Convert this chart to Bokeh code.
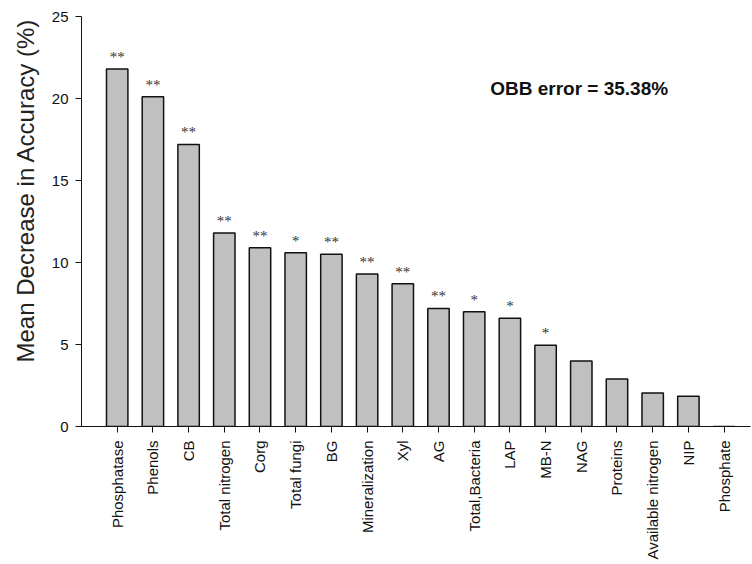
import math
from bokeh.plotting import figure
from bokeh.models import ColumnDataSource, FixedTicker, Label, LabelSet, Range1d, Title
from bokeh.embed import file_html
from bokeh.resources import INLINE

categories = ["Phosphatase", "Phenols", "CB", "Total nitrogen", "Corg", "Total fungi",
              "BG", "Mineralization", "Xyl", "AG", "Total,Bacteria", "LAP", "MB-N",
              "NAG", "Proteins", "Available nitrogen", "NIP", "Phosphate"]
values = [21.8, 20.1, 17.2, 11.8, 10.9, 10.6, 10.5, 9.3, 8.7, 7.2, 7.0, 6.6, 4.95,
          4.0, 2.9, 2.05, 1.85, 0.0]
stars = ["**", "**", "**", "**", "**", "*", "**", "**", "**", "**", "*", "*", "*",
         "", "", "", "", ""]
y_ticks = [0, 5, 10, 15, 20, 25]

positions = list(range(1, len(categories) + 1))
src = ColumnDataSource(dict(x=positions, top=values, star=stars))

FONT = "Liberation Sans"

p = figure(width=752, height=564, output_backend="svg", toolbar_location=None,
           x_range=Range1d(0, 18.74), y_range=Range1d(0, 25),
           min_border_left=80, min_border_right=2, min_border_top=16,
           min_border_bottom=138)
p.outline_line_color = None
p.xgrid.grid_line_color = None
p.ygrid.grid_line_color = None
p.background_fill_color = "white"
p.border_fill_color = "white"

p.vbar(x="x", top="top", width=0.6, bottom=0, source=src,
       fill_color="#c0c0c0", line_color="#111111", line_width=1.5)

p.add_layout(LabelSet(x="x", y="top", text="star", source=src, y_offset=4,
                      text_align="center", text_baseline="bottom",
                      text_font=FONT, text_font_size="15px", text_color="#333333"))

p.add_layout(Label(x=13.94, y=20.6, text="OBB error = 35.38%", text_align="center",
                   text_baseline="middle", text_font=FONT, text_font_size="19px",
                   text_font_style="bold", text_color="#111111"))

p.add_layout(Title(text="Mean Decrease in Accuracy (%)", align="left", offset=64,
                   standoff=19, text_font=FONT, text_font_size="24px",
                   text_font_style="normal", text_color="#222222"), "left")

xa = p.xaxis[0]
xa.ticker = FixedTicker(ticks=positions)
xa.major_label_overrides = {i: c for i, c in zip(positions, categories)}
xa.major_label_orientation = math.pi / 2
xa.major_label_text_font = FONT
xa.major_label_text_font_size = "15px"
xa.major_label_text_color = "#111111"
xa.major_label_standoff = 8
xa.major_tick_out = 6
xa.major_tick_in = 0
xa.minor_tick_line_color = None
xa.axis_line_color = "#111111"
xa.major_tick_line_color = "#111111"

ya = p.yaxis[0]
ya.ticker = FixedTicker(ticks=y_ticks)
ya.major_label_text_font = FONT
ya.major_label_text_font_size = "15px"
ya.major_label_text_color = "#111111"
ya.major_label_standoff = 7
ya.major_tick_out = 6
ya.major_tick_in = 0
ya.minor_tick_line_color = None
ya.axis_line_color = "#111111"
ya.major_tick_line_color = "#111111"

open("out.html", "w").write(file_html(p, INLINE))
